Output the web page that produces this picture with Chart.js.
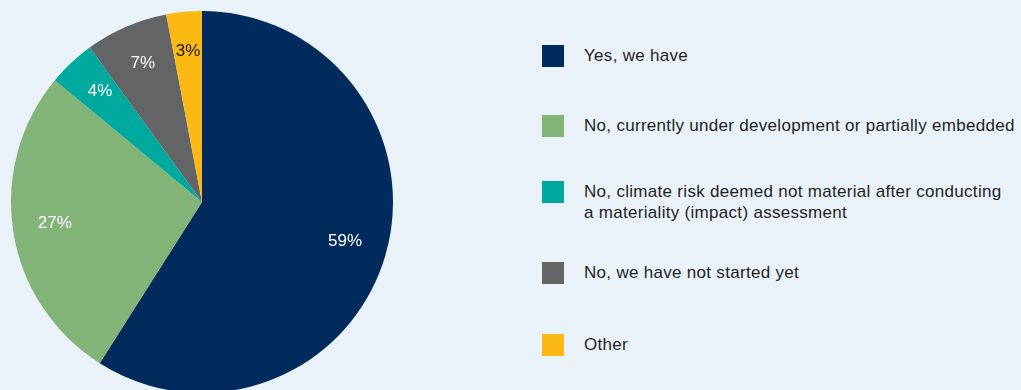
<!DOCTYPE html>
<html>
<head>
<meta charset="utf-8">
<script src="https://cdn.jsdelivr.net/npm/chart.js@4"></script>
<style>
  html, body { margin: 0; padding: 0; }
  body { width: 1021px; height: 390px; overflow: hidden; background: #e9f2f9; position: relative;
         font-family: "Liberation Sans", Arial, sans-serif; }
  #pieWrap { position: absolute; left: 0; top: 0; width: 404px; height: 404px; }
  #legend { position: absolute; left: 542px; top: 0; width: 479px; }
  .item { position: absolute; left: 0; display: flex; align-items: flex-start; }
  .swatch { width: 22px; height: 22px; flex: none; }
  .label { margin-left: 20px; font-size: 17px; letter-spacing: 0.3px; line-height: 21px;
           color: #1f1f1f; padding-top: 0px; white-space: nowrap; }
</style>
</head>
<body>
<div id="pieWrap"><canvas id="pie"></canvas></div>
<div id="legend"></div>
<script>
// ----- DATA -----
const categories = [
  'Yes, we have',
  'No, currently under development or partially embedded',
  'No, climate risk deemed not material after conducting\na materiality (impact) assessment',
  'No, we have not started yet',
  'Other'
];
const shares = [59, 27, 4, 7, 3];
const sliceColors = ['#002b5c', '#82b477', '#00a99d', '#636466', '#fdb913'];
const labelColors = ['#ffffff', '#ffffff', '#ffffff', '#ffffff', '#1a1a1a'];

// legend row tops (px)
const legendTops = [45, 115, 181, 262, 334];

// ----- LEGEND -----
const legend = document.getElementById('legend');
categories.forEach((c, i) => {
  const item = document.createElement('div');
  item.className = 'item';
  item.style.top = legendTops[i] + 'px';
  item.innerHTML = `<div class="swatch" style="background:${sliceColors[i]}"></div>
    <div class="label">${c.replace('\n', '<br>')}</div>`;
  legend.appendChild(item);
});

// ----- SLICE LABELS -----
const sliceLabels = {
  id: 'sliceLabels',
  afterDatasetsDraw(chart) {
    const ctx = chart.ctx;
    const meta = chart.getDatasetMeta(0);
    ctx.save();
    ctx.font = '17px "Liberation Sans", Arial, sans-serif';
    ctx.textAlign = 'center';
    ctx.textBaseline = 'middle';
    meta.data.forEach((arc, i) => {
      const mid = (arc.startAngle + arc.endAngle) / 2;
      const r = arc.outerRadius * 0.78;
      ctx.fillStyle = labelColors[i];
      ctx.fillText(shares[i] + '%', arc.x + Math.cos(mid) * r, arc.y - 2 + Math.sin(mid) * r);
    });
    ctx.restore();
  }
};

// ----- CHART -----
new Chart(document.getElementById('pie').getContext('2d'), {
  type: 'pie',
  data: {
    labels: categories,
    datasets: [{ data: shares, backgroundColor: sliceColors, borderWidth: 0 }]
  },
  options: {
    responsive: true,
    maintainAspectRatio: false,
    animation: false,
    layout: { padding: 11 },
    plugins: { legend: { display: false }, tooltip: { enabled: false } }
  },
  plugins: [sliceLabels]
});
</script>
</body>
</html>
